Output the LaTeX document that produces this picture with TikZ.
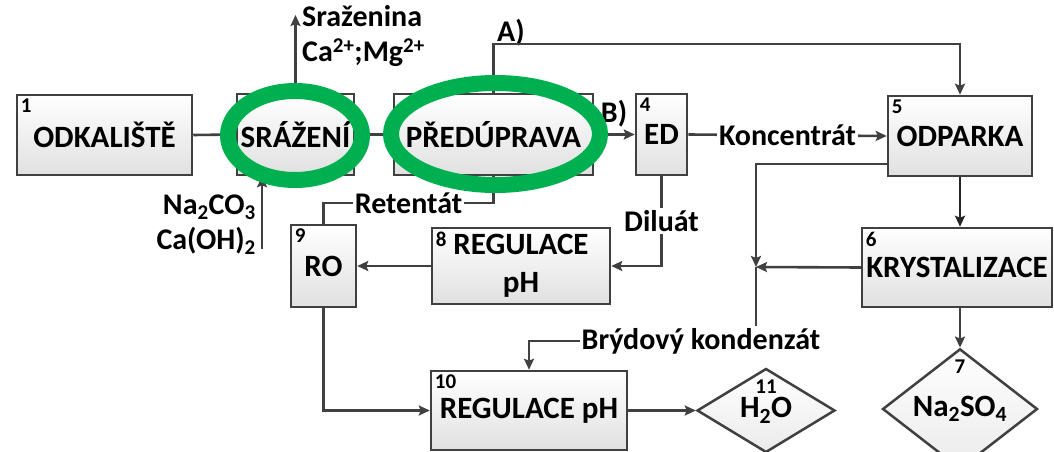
\documentclass[tikz,border=0pt]{standalone}
\usepackage{fontspec}
\setmainfont{Carlito}
\usetikzlibrary{shapes.geometric,arrows.meta}
\definecolor{lc}{HTML}{404040}
\definecolor{ringgreen}{HTML}{00B050}
\begin{document}
\begin{tikzpicture}[x=1pt,y=-1pt,
  box/.style={draw=lc, line width=2.5pt, top color=white, bottom color=black!12,
    font=\fontsize{31}{38}\selectfont\bfseries, inner sep=0pt, align=center},
  diam/.style={diamond, draw=lc, line width=2.5pt, top color=white, bottom color=black!8,
    font=\fontsize{31}{34}\selectfont\bfseries, inner sep=0pt},
  numlab/.style={font=\fontsize{21}{21}\selectfont\bfseries, anchor=north west, inner sep=5pt},
  dnum/.style={font=\fontsize{21}{21}\selectfont\bfseries, anchor=north, inner sep=0pt, yshift=-12pt},
  conn/.style={draw=lc, line width=2.6pt},
  arr/.style={conn, -{Stealth[length=11pt,width=10pt,inset=2pt]}},
  lbl/.style={font=\fontsize{30}{35}\selectfont\bfseries, inner sep=2pt},
  ring/.style={draw=ringgreen, line width=16pt}]
\useasboundingbox (0,0) rectangle (1054,452);
% boxes
\node[box, minimum width=175pt, minimum height=80pt, label={[numlab]north west:1}] (n1) at (104.5,135) {ODKALIŠTĚ};
\node[box, minimum width=117pt, minimum height=81pt] (n2) at (295.5,134.5) {SRÁŽENÍ};
\node[box, minimum width=199pt, minimum height=81pt] (n3) at (493.5,134.5) {PŘEDÚPRAVA};
\node[box, minimum width=51pt, minimum height=81pt, label={[numlab]north west:4}] (n4) at (661.5,134.5) {ED};
\node[box, minimum width=144pt, minimum height=80pt, label={[numlab]north west:5}] (n5) at (960,136) {ODPARKA};
\node[box, minimum width=190pt, minimum height=79pt, label={[numlab]north west:6}] (n6) at (957,267.5) {KRYSTALIZACE};
\node[box, minimum width=178pt, minimum height=76pt, label={[numlab]north west:8}] (n8) at (521,266) {REGULACE\\pH};
\node[box, minimum width=65pt, minimum height=82pt, label={[numlab]north west:9}] (n9) at (323.5,266) {RO};
\node[box, minimum width=196pt, minimum height=79pt, label={[numlab]north west:10}] (n10) at (529,410.5) {REGULACE pH};
\node[diam, minimum width=138pt, minimum height=84pt, label={[dnum]north:11}] (n11) at (766,410.5) {H\textsubscript{2}O};
\node[diam, minimum width=155pt, minimum height=86pt, label={[dnum]north:7}] (n7) at (960,409) {Na\textsubscript{2}SO\textsubscript{4}};
% free labels
\node[lbl, align=left, anchor=north west] (srazl) at (300,3) {Sraženina\\Ca\textsuperscript{2+};Mg\textsuperscript{2+}};
\node[lbl, align=right, anchor=east] (nal) at (258,225) {Na\textsubscript{2}CO\textsubscript{3}\\Ca(OH)\textsubscript{2}};
\node[lbl] (al) at (511,33) {A)};
\node[lbl] (bl) at (614,114) {B)};
\node[lbl] (bryd) at (701,341) {Brýdový kondenzát};
\coordinate (srazTip) at (295.5,15);
\coordinate (naS) at (262,249);
\coordinate (junc) at (756,267);
% connectors
\draw[conn] (n1.east) -- (n2.west);
\draw[conn] (n2.east) -- (n3.west);
\draw[arr] (n2.north) -- (srazTip);
\draw[arr] (naS) -- (naS |- n2.south);
\draw[arr] (n3.north) -- (n3.north |- 0,44) -| (n5.north);
\draw[arr] (n3.east) -- (n4.west);
\draw[arr] (n4.east) -- node[lbl, fill=white] {Koncentrát} (n5.west);
\draw[arr] (n4.south) -- node[lbl, fill=white] {Diluát} (n4.south |- n8.east) -- (n8.east);
\draw[arr] (n8.west) -- (n9.east);
\draw[conn] (n3.south) -- (n3.south |- 0,203) -- node[lbl, fill=white] {Retentát} (n9.north |- 0,203) -- (n9.north);
\draw[arr] (n9.south) |- (n10.west);
\draw[arr] (n10.east) -- (n11.west);
\draw[arr, draw=black!85] (n5.south) -- (n5.south |- n6.north);
\draw[arr] (n7.north |- n6.south) -- (n7.north);
\draw[arr] (n5.west |- 0,164) -| (junc);
\draw[arr] (n6.west) -- (junc);
\draw[conn] (junc) -- (junc |- bryd.north);
\draw[arr] (bryd.west) -| (n10.north);
% green rings
\draw[ring] (295,135.5) ellipse [x radius=67pt, y radius=44.5pt];
\draw[ring] (495.5,134) ellipse [x radius=104.5pt, y radius=51pt];
\end{tikzpicture}
\end{document}
